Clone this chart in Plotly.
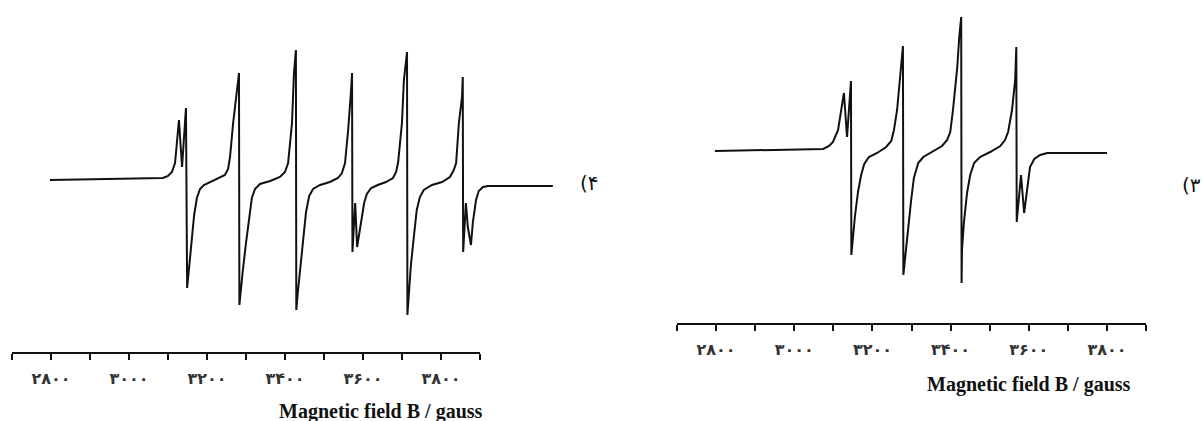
import plotly.graph_objects as go

# EPR spectra (field in gauss, intensity in arbitrary units)
field_4 = [2797, 2977, 3087, 3100, 3110, 3118, 3123, 3128, 3136, 3141, 3146, 3149, 3154, 3159,
           3167, 3174, 3182, 3192, 3213, 3233, 3246, 3254, 3259, 3267, 3277, 3282, 3283,
           3287, 3292, 3300, 3308, 3315, 3323, 3336, 3362, 3387, 3400, 3408, 3418, 3423, 3428, 3429,
           3433, 3438, 3446, 3454, 3462, 3472, 3490, 3515, 3536, 3546, 3554, 3562, 3569, 3572,
           3573, 3580, 3585,
           3590, 3595, 3603, 3610, 3621, 3638, 3659, 3677, 3685, 3690, 3700, 3705, 3713, 3714,
           3718, 3723, 3731, 3738, 3746, 3756, 3777, 3803, 3823, 3833, 3839, 3846, 3854, 3856,
           3857, 3864, 3869, 3877, 3882, 3890, 3897, 3908, 3921, 4087]
signal_4 = [0, 1, 2, 4, 8, 17, 40, 60, 13, 40, 72, -108, -88, -65,
            -35, -18, -9, -5, -1, 2, 5, 11, 23, 57, 90, 107, -125,
            -108, -90, -63, -38, -18, -9, -4, -1, 3, 8, 17, 57, 107, 130, -130,
            -112, -93, -60, -32, -16, -9, -5, -2, 2, 7, 17, 50, 87, 107,
            -72, -23, -67,
            -55, -40, -23, -14, -8, -5, -2, 2, 8, 17, 57, 100, 128, -135,
            -110, -85, -55, -30, -17, -10, -5, -2, 3, 10, 17, 57, 83, 103,
            -72, -23, -47, -65, -42, -20, -11, -7, -6, -6]

field_3 = [2797, 2964, 3074, 3089, 3099, 3112, 3122, 3127, 3135, 3145, 3146,
           3150, 3155, 3163, 3171, 3179, 3191, 3212, 3235, 3248, 3255, 3263, 3271, 3278, 3279,
           3284, 3291, 3299, 3306, 3317, 3330, 3353, 3378, 3391, 3399, 3406, 3417, 3422, 3427, 3428,
           3429, 3434, 3442, 3450, 3460, 3475, 3501, 3527, 3539, 3547, 3557, 3565, 3568, 3569,
           3580, 3588, 3596, 3603, 3614, 3629, 3647, 3800]
signal_3 = [0, 1, 2, 5, 9, 21, 44, 58, 14, 70, -104,
            -85, -66, -41, -24, -13, -6, -2, 4, 10, 21, 41, 74, 105, -124,
            -104, -79, -49, -27, -12, -6, -1, 5, 11, 19, 41, 84, 114, 134, -132,
            -99, -71, -42, -24, -12, -6, -1, 5, 11, 19, 41, 71, 104, -71,
            -24, -62, -36, -16, -8, -4, -2, -2]

# ruler ticks
tick_values = [2700, 2800, 2900, 3000, 3100, 3200, 3300, 3400, 3500, 3600, 3700, 3800, 3900]
tick_labels = ['', '۲۸۰۰', '', '۳۰۰۰', '', '۳۲۰۰', '', '۳۴۰۰', '', '۳۶۰۰', '', '۳۸۰۰', '']
axis_title = 'Magnetic field B / gauss'
panel_labels = ['(۴', '(۳']

W, H = 1202, 421

fig = go.Figure()
fig.add_trace(go.Scatter(x=field_4, y=signal_4, mode='lines', xaxis='x', yaxis='y',
                         line=dict(color='#111111', width=2), hoverinfo='skip'))
fig.add_trace(go.Scatter(x=field_3, y=signal_3, mode='lines', xaxis='x2', yaxis='y2',
                         line=dict(color='#111111', width=2), hoverinfo='skip'))
# empty traces so the two ruler axes get drawn
for xa, ya in [('x3', 'y3'), ('x4', 'y4')]:
    fig.add_trace(go.Scatter(x=[tick_values[0], tick_values[-1]], y=[0, 0], mode='none',
                             xaxis=xa, yaxis=ya, hoverinfo='skip'))

hidden = dict(visible=False, fixedrange=True)
ruler = dict(range=[2700, 3900], tickmode='array', tickvals=tick_values, ticktext=tick_labels,
             showline=True, linecolor='#111111', linewidth=2, ticks='outside', ticklen=6,
             tickwidth=2, tickcolor='#111111', showgrid=False, zeroline=False,
             ticklabelstandoff=5, fixedrange=True,
             tickfont=dict(family='DejaVu Sans', size=16, color='#333333', weight='bold'))

fig.update_layout(
    width=W, height=H, margin=dict(l=0, r=0, t=0, b=0),
    paper_bgcolor='white', plot_bgcolor='rgba(0,0,0,0)', showlegend=False,
    xaxis=dict(domain=[0, 600 / W], range=[2669, 4208], **hidden),
    yaxis=dict(domain=[0, 1], range=[-241, 180], **hidden),
    xaxis2=dict(domain=[600 / W, 1], range=[2503, 4043], **hidden),
    yaxis2=dict(domain=[0, 1], range=[-270, 151], **hidden),
    xaxis3=dict(domain=[12 / W, 480 / W], anchor='y3', **ruler),
    yaxis3=dict(domain=[(H - 352) / H, 0.5], range=[0, 1], **hidden),
    xaxis4=dict(domain=[677 / W, 1146 / W], anchor='y4', **ruler),
    yaxis4=dict(domain=[(H - 323) / H, 0.5], range=[0, 1], **hidden),
)

title_font = dict(family='Liberation Serif', size=20, color='#111111')
fig.add_annotation(text='<b>' + axis_title + '</b>', x=381 / W, y=(H - 411) / H, xref='paper',
                   yref='paper', xanchor='center', yanchor='middle', showarrow=False,
                   font=title_font)
fig.add_annotation(text='<b>' + axis_title + '</b>', x=1029 / W, y=(H - 384) / H, xref='paper',
                   yref='paper', xanchor='center', yanchor='middle', showarrow=False,
                   font=title_font)

label_font = dict(family='DejaVu Sans', size=20, color='#111111')
fig.add_annotation(text=panel_labels[0], x=578 / W, y=(H - 183) / H, xref='paper', yref='paper',
                   xanchor='left', yanchor='middle', showarrow=False, font=label_font)
fig.add_annotation(text=panel_labels[1], x=1180 / W, y=(H - 185) / H, xref='paper', yref='paper',
                   xanchor='left', yanchor='middle', showarrow=False, font=label_font)

# page body has a default margin; drop it so the figure sits at the window corner
fig.write_html("out.html", config={'displayModeBar': False},
               post_script="document.body.style.margin='0';")
